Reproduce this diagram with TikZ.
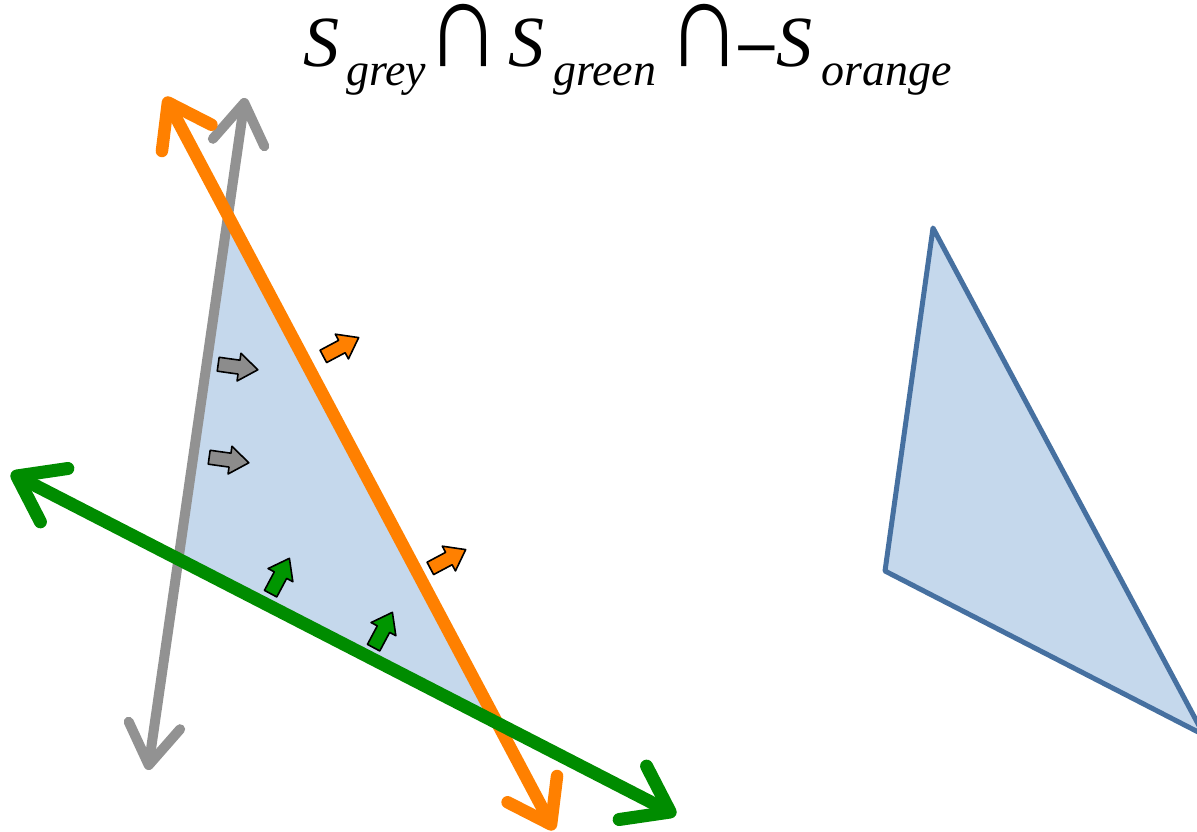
\documentclass[tikz,border=0pt]{standalone}
\usepackage{fontspec}
\setmainfont{Liberation Serif}
\newfontfamily\opfont{DejaVu Sans}
\usetikzlibrary{arrows.meta}
\definecolor{lgrey}{RGB}{146,146,146}
\definecolor{lorange}{RGB}{255,128,0}
\definecolor{lgreen}{RGB}{0,140,0}
\definecolor{fillblue}{RGB}{197,216,236}
\definecolor{edgeblue}{RGB}{70,112,160}
\definecolor{agrey}{RGB}{140,140,140}
\definecolor{aorange}{RGB}{255,128,0}
\definecolor{agreen}{RGB}{0,150,0}
\tikzset{
  halfplane/.style={line cap=round},
  halfgrey/.style={halfplane, draw=lgrey, line width=10pt, {Straight Barb[length=40pt,width=52pt,round]}-{Straight Barb[length=40pt,width=52pt,round]}},
  halforange/.style={halfplane, draw=lorange, line width=12.5pt, {Straight Barb[length=40pt,width=56pt,round]}-{Straight Barb[length=40pt,width=56pt,round]}},
  halfgreen/.style={halfplane, draw=lgreen, line width=13pt, {Straight Barb[length=42pt,width=60pt,round]}-{Straight Barb[length=42pt,width=60pt,round]}},
  region/.style={fill=fillblue},
  regionedge/.style={region, draw=edgeblue, line width=5pt, line join=round},
  normalarrow/.style={draw=black, line width=1.6pt, line join=round},
  bigS/.style={anchor=base west, inner sep=0pt, font=\fontsize{72}{72}\selectfont\itshape},
  subs/.style={anchor=base west, inner sep=0pt, font=\fontsize{46}{46}\selectfont\itshape},
  op/.style={anchor=base west, inner sep=0pt, font=\fontsize{95}{95}\selectfont},
  minusop/.style={anchor=base west, inner sep=0pt, font=\fontsize{58}{58}\selectfont\opfont},
  barrow/.pic={\path[pic actions] (-20,-7) -- (1,-7) -- (1,-14) -- (20,0) -- (1,14) -- (1,7) -- (-20,7) -- cycle;}
}
\begin{document}
\begin{tikzpicture}[x=1pt,y=-1pt]
\useasboundingbox (0,0) rectangle (1197,832);
% line end points
\coordinate (gb) at (148,770);
\coordinate (gt) at (245,98);
\coordinate (ot) at (165,97);
\coordinate (ob) at (554,830);
\coordinate (nl) at (11,473);
\coordinate (nr) at (676,815);
% region of the three half-planes
\coordinate (v1) at (intersection of gb--gt and ot--ob);
\coordinate (v2) at (intersection of gb--gt and nl--nr);
\coordinate (v3) at (intersection of ot--ob and nl--nr);
\fill[region] (v1) -- (v2) -- (v3) -- cycle;
% lines
\draw[halfgrey] (gb) -- (gt);
\draw[halforange] (ot) -- (ob);
\draw[halfgreen] (nl) -- (nr);
% normal arrows
\pic[normalarrow, fill=agrey, rotate=-8] at (238,367) {barrow};
\pic[normalarrow, fill=agrey, rotate=-8] at (229,460) {barrow};
\pic[normalarrow, fill=aorange, rotate=28] at (341,347) {barrow};
\pic[normalarrow, fill=aorange, rotate=28] at (448,559) {barrow};
\pic[normalarrow, fill=agreen, rotate=62] at (280,576) {barrow};
\pic[normalarrow, fill=agreen, rotate=62] at (383,630) {barrow};
% resulting region
\draw[regionedge] (933,228) -- (885,571) -- (1204,735) -- cycle;
% title
\node[bigS] (s1) at (303,67) {S};
\node[subs] (b1) at (346,86) {grey};
\node[op] (c1) at (426,67) {\scalebox{1.08}[1.3]{∩}};
\node[bigS] (s2) at (508,67) {S};
\node[subs] (b2) at (553,86) {green};
\node[op] (c2) at (667,67) {\scalebox{1.08}[1.3]{∩}};
\node[minusop] (m) at (732,67) {−};
\node[bigS] (s3) at (776,67) {S};
\node[subs] (b3) at (821,86) {orange};
\end{tikzpicture}
\end{document}
